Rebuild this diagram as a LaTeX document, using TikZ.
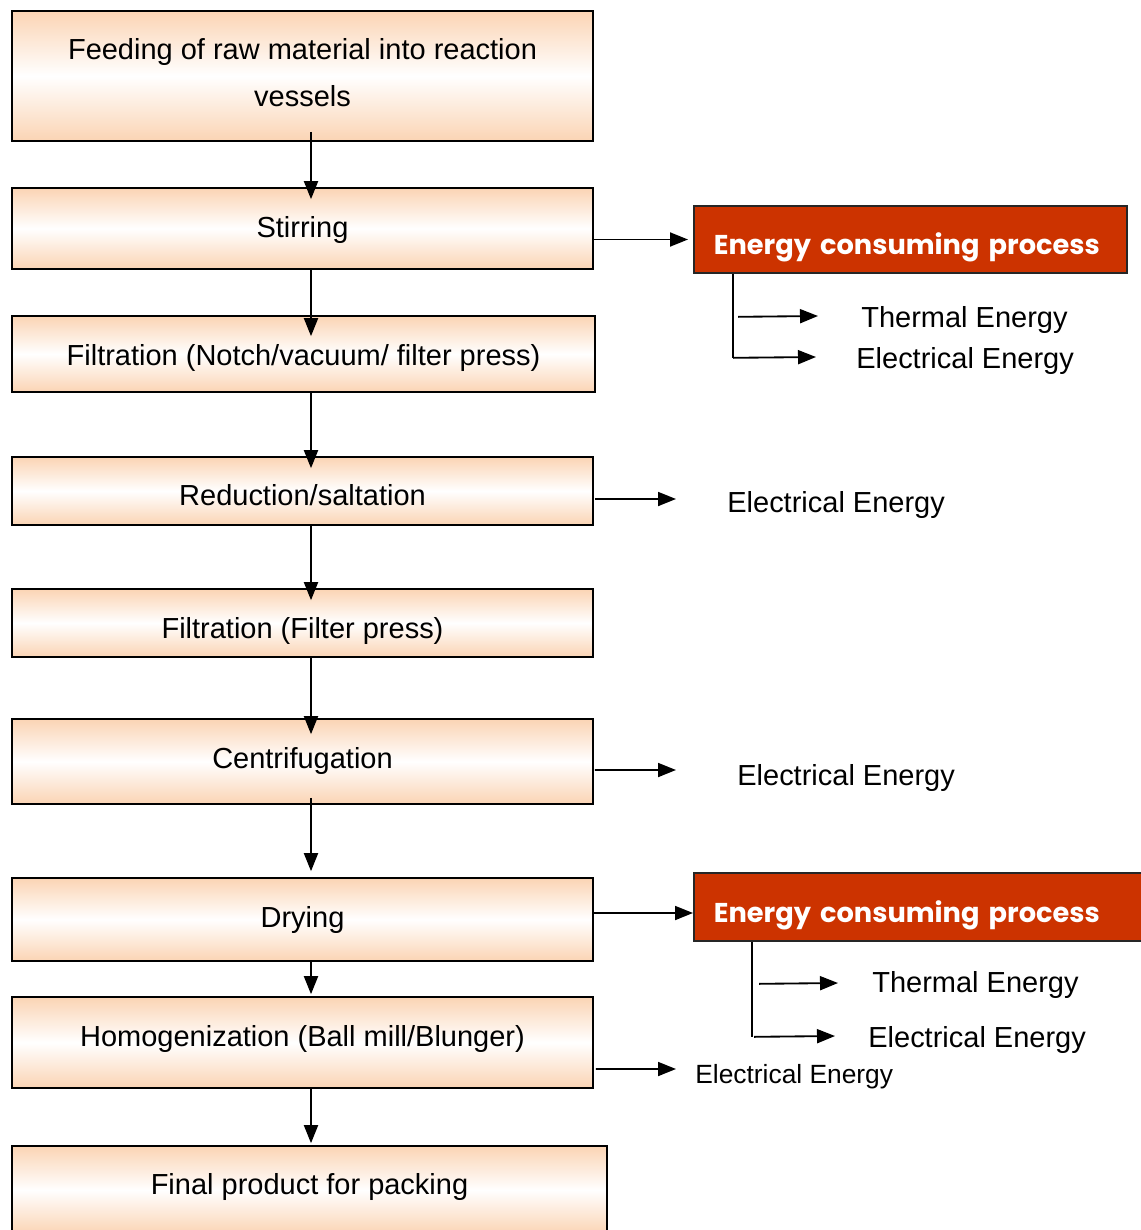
\documentclass[tikz,border=0pt]{standalone}
\usepackage{fontspec}
\setmainfont{Liberation Sans}
\newfontfamily\headfont{Poppins}
\usepackage{xcolor}
\usetikzlibrary{arrows.meta, calc, positioning}

\definecolor{peach}{HTML}{FBD4B4}
\definecolor{rust}{HTML}{CC3300}

\tikzset{
    stepbox/.style={draw, line width=0.95pt, top color=peach, bottom color=peach, middle color=white,
        inner sep=0pt, minimum width=11.62cm, align=center, font=\fontsize{16.5}{27}\selectfont},
    oneline/.style={text depth=3.5pt, text height=#1},
    energybox/.style={draw=black!85, line width=0.95pt, fill=rust, text=white, anchor=west,
        inner xsep=0.4cm, inner ysep=0pt, text height=0.72cm, text depth=0.12cm, align=left,
        font=\headfont\bfseries\fontsize{15.5}{18}\selectfont},
    formlabel/.style={anchor=west, inner sep=0pt, text height=15.4pt, text depth=3.5pt, font=\fontsize{16.5}{20}\selectfont},
    flow/.style={line width=1.05pt, -{Triangle[length=0.36cm, width=0.28cm]}},
    branch/.style={line width=1.05pt}
}

\begin{document}
\begin{tikzpicture}[x=0.02cm, y=-0.02cm]
                    \useasboundingbox (0, 0) rectangle (1141, 1230);

                    \node[stepbox, minimum height=2.6cm] (feed) at (302.5, 76) {Feeding of raw material into reaction\\vessels\rule[-4pt]{0pt}{1pt}};
                    \node[stepbox, oneline=13.6pt, minimum height=1.62cm] (stir) at (302.5, 228.5) {Stirring};
                    \node[stepbox, oneline=16.4pt, minimum height=1.52cm, minimum width=11.66cm] (filtone) at (303.5, 354) {Filtration (Notch/vacuum/ filter press)};
                    \node[stepbox, oneline=19.8pt, minimum height=1.36cm] (redu) at (302.5, 491) {Reduction/saltation};
                    \node[stepbox, oneline=21pt, minimum height=1.36cm] (filttwo) at (302.5, 623) {Filtration (Filter press)};
                    \node[stepbox, oneline=11.3pt, minimum height=1.7cm] (centri) at (302.5, 761.5) {Centrifugation};
                    \node[stepbox, oneline=12.5pt, minimum height=1.66cm] (dry) at (302.5, 919.5) {Drying};
                    \node[stepbox, oneline=7.9pt, minimum height=1.82cm] (homog) at (302.5, 1042.5) {Homogenization (Ball mill/Blunger)};
                    \node[stepbox, oneline=8.5pt, minimum height=1.76cm, minimum width=11.9cm] (final) at (309.5, 1190) {Final product for packing};

                    \node[energybox, minimum height=1.34cm, text width=7.86cm] (engone) at (693, 239.5) {Energy consuming process};
                    \node[energybox, minimum height=1.36cm, text width=8.6cm] (engtwo) at (693, 907) {Energy consuming process};

                    \node[formlabel] (thermone) at (861, 317) {Thermal Energy};
                    \node[formlabel] (elecone) at (856, 358) {Electrical Energy};
                    \node[formlabel] (electwo) at (727, 502) {Electrical Energy};
                    \node[formlabel] (electhree) at (737, 775) {Electrical Energy};
                    \node[formlabel] (thermtwo) at (872, 982) {Thermal Energy};
                    \node[formlabel] (elecfour) at (868, 1037) {Electrical Energy};
                    \node[formlabel, text height=14.3pt, text depth=3.2pt, font=\fontsize{15}{18}\selectfont] (elecfive) at (695, 1074) {Electrical Energy};

                    \draw[flow] ($(feed.south)+(8.5, -10)$) -- ($(stir.north)+(8.5, 12)$);
                    \draw[flow] ($(stir.south)+(8.5, 0)$) -- ($(filtone.north)+(7.5, 21)$);
                    \draw[flow] ($(filtone.south)+(7.5, 0)$) -- ($(redu.north)+(8.5, 12)$);
                    \draw[flow] ($(redu.south)+(8.5, 0)$) -- ($(filttwo.north)+(8.5, 12)$);
                    \draw[flow] ($(filttwo.south)+(8.5, 0)$) -- ($(centri.north)+(8.5, 16)$);
                    \draw[flow] ($(centri.south)+(8.5, -7)$) -- ($(dry.north)+(8.5, -6)$);
                    \draw[flow] ($(dry.south)+(8.5, 0)$) -- ($(homog.north)+(8.5, -2)$);
                    \draw[flow] ($(homog.south)+(8.5, 0)$) -- ($(final.north)+(1.5, -2)$);

                    \draw[flow] (stir.east |- engone.west) -- ($(engone.west)+(-5, 0)$);
                    \draw[flow] ($(redu.east)+(1, 8)$) -- ($(electwo.west)+(-51, -3)$);
                    \draw[flow] ($(centri.east)+(1, 8.5)$) -- ($(electhree.west)+(-61, -5)$);
                    \coordinate (dryout) at ($(dry.east)+(0, -6.5)$);
                    \draw[flow] (dryout) -- (dryout -| engtwo.west);
                    \draw[flow] ($(homog.east)+(2, 26.5)$) -- ($(elecfive.west)+(-19, -5)$);

                    \coordinate (forkone) at ($(engone.south west)+(40, 0)$);
                    \draw[branch] (forkone) -- ++(0, 84);
                    \draw[flow] ($(forkone)+(5, 43)$) -- ($(thermone.west)+(-43, -1)$);
                    \draw[flow] ($(forkone)+(0, 84)$) -- ($(elecone.west)+(-40, -1)$);

                    \coordinate (forktwo) at ($(engtwo.south west)+(59, 0)$);
                    \draw[branch] (forktwo) -- ++(0, 95);
                    \draw[flow] ($(forktwo)+(7, 42)$) -- ($(thermtwo.west)+(-34, 1)$);
                    \draw[flow] ($(forktwo)+(2, 95)$) -- ($(elecfour.west)+(-33, -1)$);
                \end{tikzpicture}
\end{document}
